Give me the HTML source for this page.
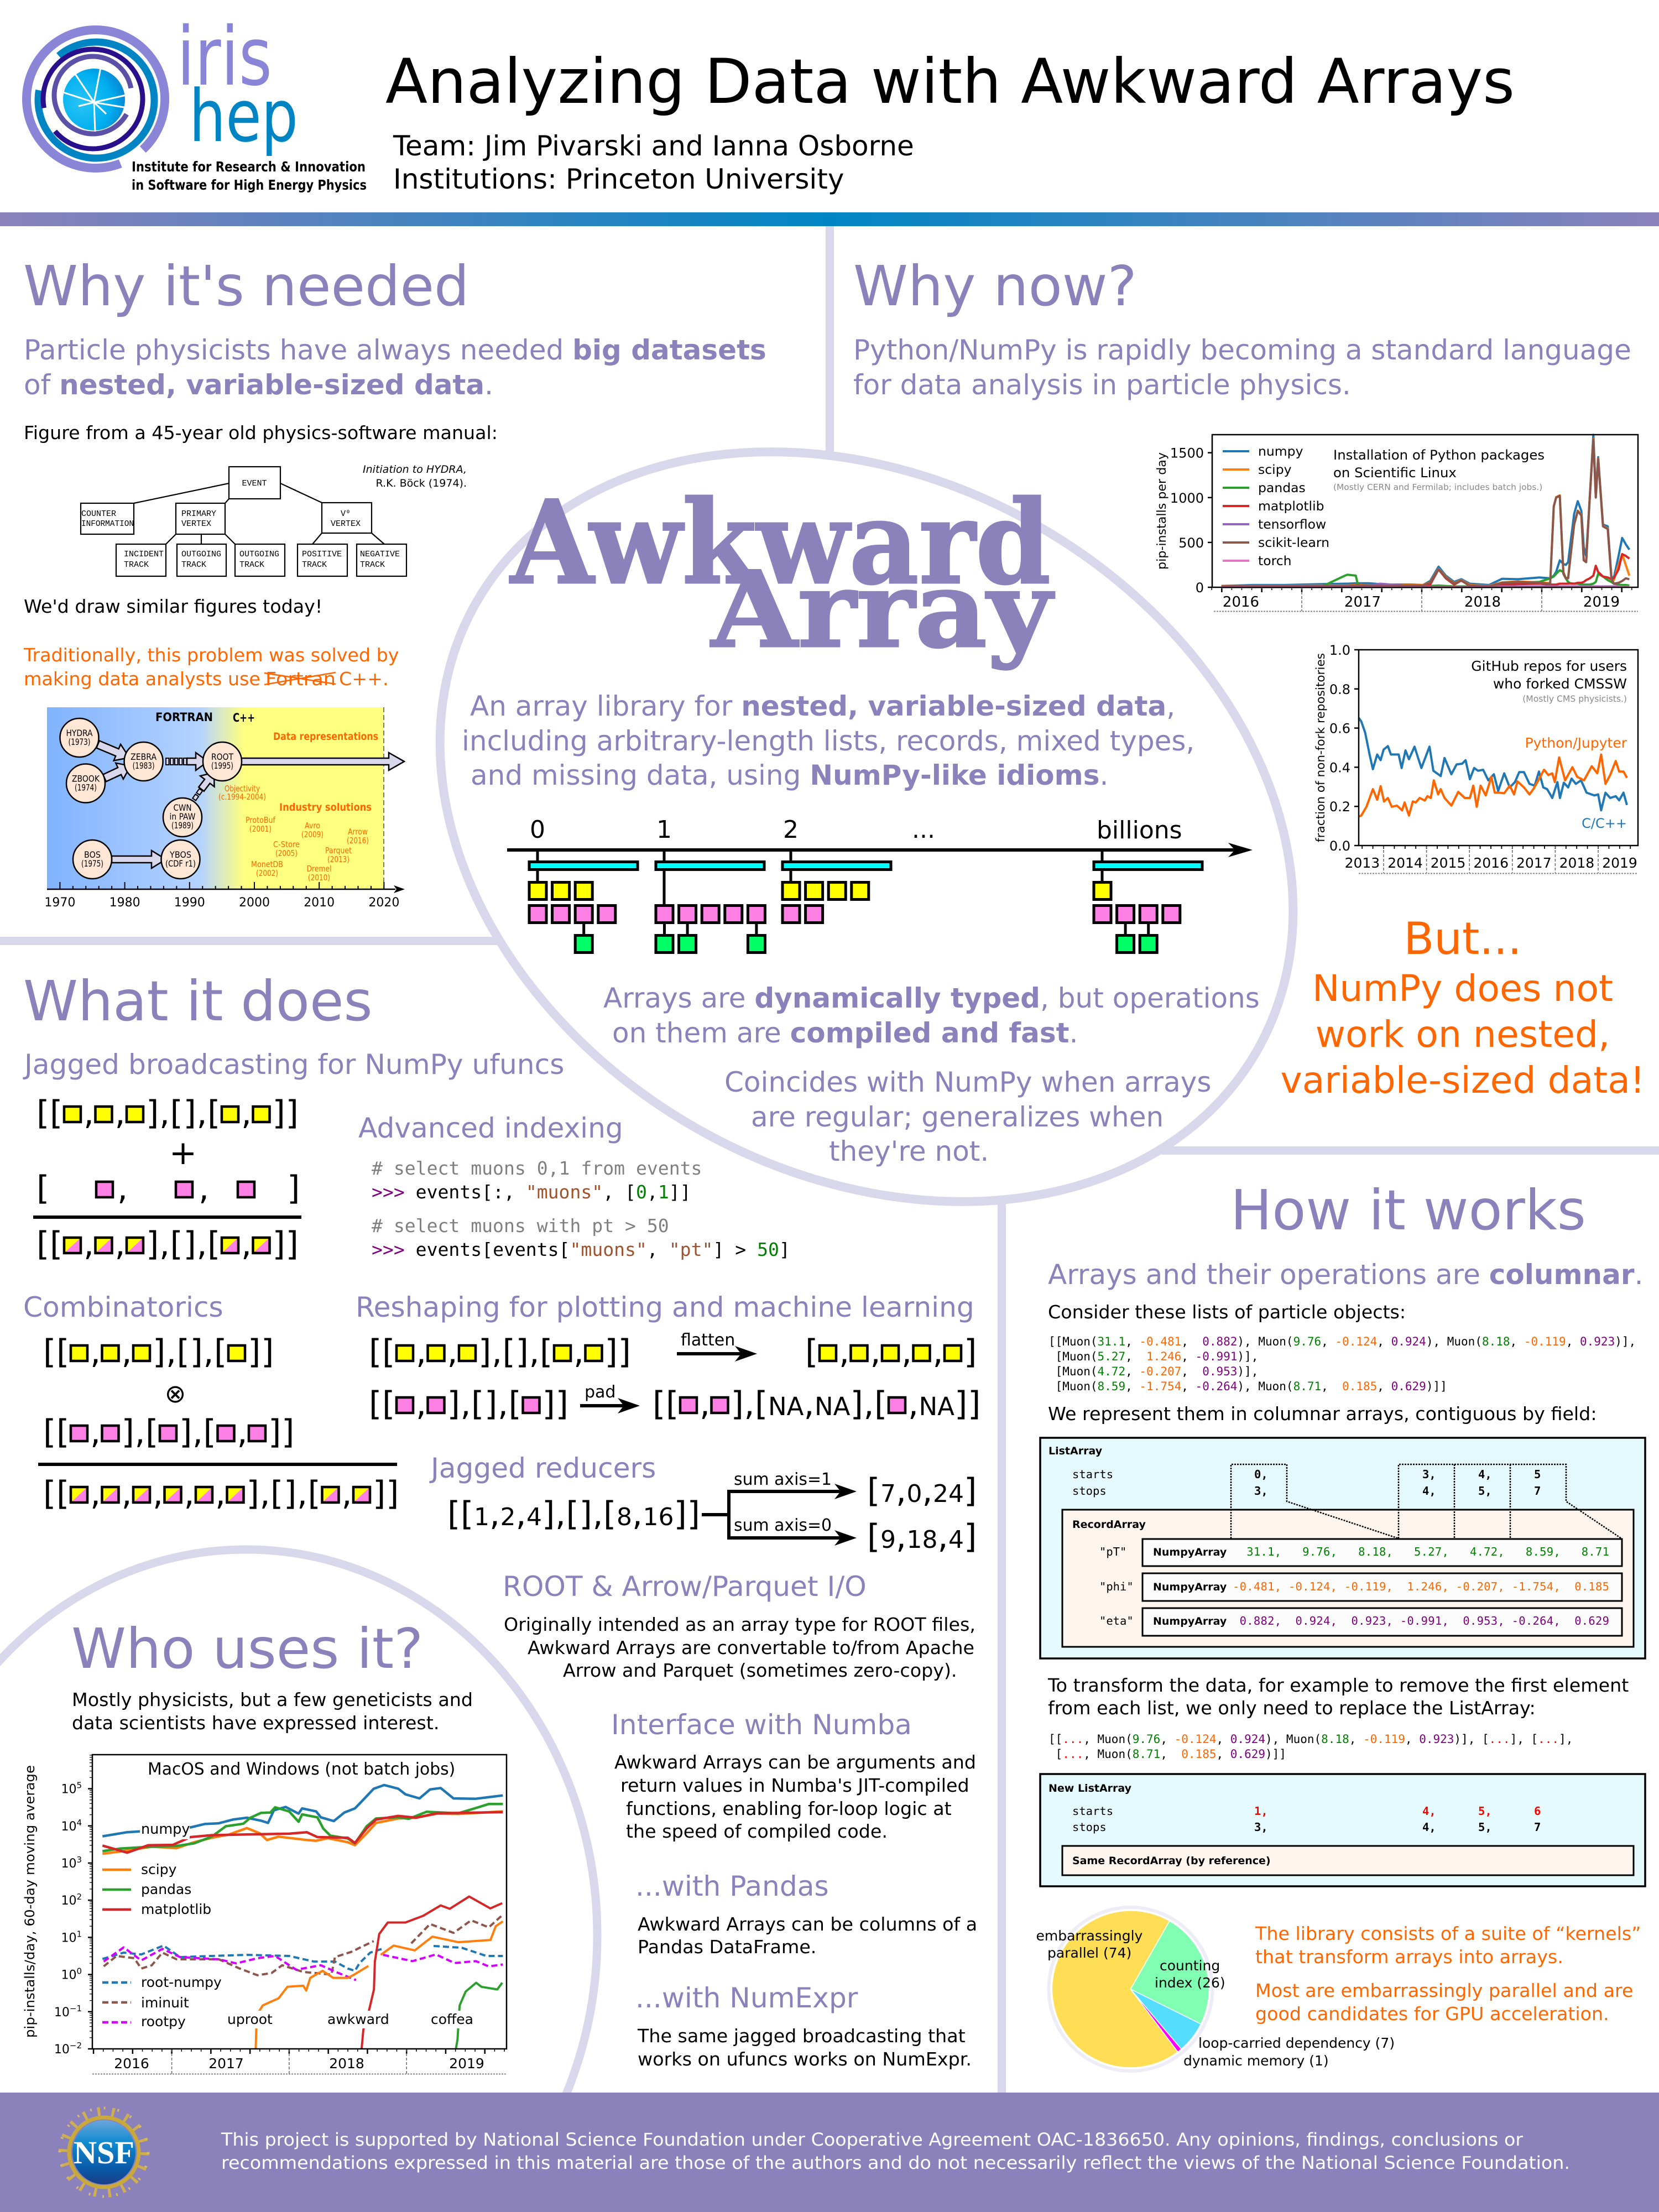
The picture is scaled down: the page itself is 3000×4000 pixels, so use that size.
<!DOCTYPE html>
<html lang="en">
<head>
<meta charset="utf-8">
<title>Analyzing Data with Awkward Arrays</title>
<style>
html,body{margin:0;padding:0;background:#fff;width:3000px;height:4000px;overflow:hidden}
svg{display:block}
text{font-family:"DejaVu Sans","Liberation Sans",sans-serif;white-space:pre}
.h1{font-size:100px;fill:#8b81bb}
.h2{font-size:50.2px;fill:#8b81bb}
.lead{font-size:50px;fill:#8b81bb}
.lead tspan.bd,.bd{font-weight:bold}
.b{font-size:33.3px;fill:#000}
.o{font-size:33.3px;fill:#ff6600}
.big-o{font-size:66.3px;fill:#ff6600}
.m{font-family:"DejaVu Sans Mono","Liberation Mono",monospace}
.code{font-size:33.1px;fill:#000}
.cm{fill:#808080}
.pr{fill:#800080}
.st{fill:#a0522d}
.nu{fill:#008000}
.mu{font-size:21px;fill:#000}
.lab{font-size:19px;font-weight:bold;fill:#000}
.mono20{font-size:20.5px;fill:#000}
.val{font-size:20.5px;font-weight:bold;fill:#000}
.hy{font-family:"Liberation Mono",monospace;font-size:15px;fill:#000}
.tl{font-size:16px;fill:#000;text-anchor:middle}
.tlo{font-size:15px;fill:#ff6600;text-anchor:middle}
.ax{font-size:24px;fill:#000}
.pie{font-size:25px;fill:#000}
.g{fill:#008000}
.or{fill:#ff6600}
.pu{fill:#800080}
.rd{fill:#ff0000}
</style>
</head>
<body>
<svg id="poster" xmlns="http://www.w3.org/2000/svg" width="3000" height="4000" viewBox="0 0 3000 4000">
<defs>
<linearGradient id="barGrad" x1="0" x2="1" y1="0" y2="0"><stop offset="0" stop-color="#8b81bb"/><stop offset="0.5" stop-color="#0085c4"/><stop offset="1" stop-color="#8b81bb"/></linearGradient>
<linearGradient id="tlGrad" x1="0" x2="1" y1="0" y2="0"><stop offset="0" stop-color="#80b3ff"/><stop offset="0.457" stop-color="#b5d3ff"/><stop offset="0.583" stop-color="#ffff80"/><stop offset="1" stop-color="#ffff80"/></linearGradient>
<radialGradient id="logoCore" cx="0.3" cy="0.55" r="0.8"><stop offset="0" stop-color="#29c5f6"/><stop offset="0.6" stop-color="#00aeef"/><stop offset="1" stop-color="#0a78c8"/></radialGradient>
<linearGradient id="globe" x1="0" x2="0" y1="0" y2="1"><stop offset="0" stop-color="#6aa6dc"/><stop offset="0.35" stop-color="#0f8ad0"/><stop offset="0.75" stop-color="#0a5aa8"/><stop offset="1" stop-color="#1a3f88"/></linearGradient>
</defs>

<g>
<rect x="0" y="384" width="3000" height="25" fill="url(#barGrad)"/>
<rect x="1493" y="409" width="15" height="420" fill="#d8d7eb"/>
<rect x="0" y="1694" width="905" height="15" fill="#d8d7eb"/>
<rect x="2100" y="2073" width="900" height="15" fill="#d8d7eb"/>
<rect x="1804" y="2170" width="15" height="1620" fill="#d8d7eb"/>
<ellipse cx="1567" cy="1495" rx="814" ry="626" transform="rotate(30 1567 1495)" fill="#fff" stroke="#d8d7eb" stroke-width="16"/>
<ellipse cx="445" cy="3500" rx="635" ry="698" fill="none" stroke="#d8d7eb" stroke-width="15"/>
</g>

<g>
<circle cx="173" cy="179" r="125" fill="none" stroke="#8a85d6" stroke-width="16" pathLength="360" stroke-dasharray="338 22" transform="rotate(69 173 179)"/>
<circle cx="174" cy="181" r="105" fill="none" stroke="#0085c4" stroke-width="13" pathLength="360" stroke-dasharray="320 40" transform="rotate(230 174 181)"/>
<circle cx="168" cy="179" r="90" fill="none" stroke="#2a0f8c" stroke-width="9" pathLength="360" stroke-dasharray="330 30" transform="rotate(170 168 179)"/>
<circle cx="168" cy="172" r="70" fill="none" stroke="#5b51a6" stroke-width="9" pathLength="360" stroke-dasharray="320 40" transform="rotate(30 168 172)"/>
<circle cx="170" cy="180" r="56" fill="url(#logoCore)"/>
<g stroke="#fff" stroke-width="3">
<line x1="170" y1="185" x2="182" y2="122"/><line x1="170" y1="185" x2="132" y2="128"/><line x1="170" y1="185" x2="108" y2="165"/><line x1="170" y1="185" x2="228" y2="172"/><line x1="170" y1="185" x2="230" y2="195"/><line x1="170" y1="185" x2="172" y2="238"/><line x1="170" y1="185" x2="192" y2="206"/><line x1="170" y1="185" x2="142" y2="192"/>
</g>
<text x="320" y="153" font-size="146" fill="#8a85d6" textLength="172" lengthAdjust="spacingAndGlyphs">iris</text>
<text x="342" y="255" font-size="130" fill="#0085c4" textLength="197" lengthAdjust="spacingAndGlyphs">hep</text>
<text x="238" y="310" font-size="25" font-weight="bold" fill="#000" textLength="423" lengthAdjust="spacingAndGlyphs">Institute for Research &amp; Innovation</text>
<text x="238" y="343" font-size="25" font-weight="bold" fill="#000" textLength="425" lengthAdjust="spacingAndGlyphs">in Software for High Energy Physics</text>
</g>

<text x="697" y="186" font-size="111.2" fill="#000">Analyzing Data with Awkward Arrays</text>
<text x="711" y="281" font-size="50" fill="#000">Team: Jim Pivarski and Ianna Osborne</text>
<text x="711" y="341" font-size="50" fill="#000">Institutions: Princeton University</text>

<!-- Why it's needed -->
<text class="h1" x="42" y="552">Why it's needed</text>
<text class="lead" x="43" y="650">Particle physicists have always needed <tspan class="bd">big datasets</tspan></text>
<text class="lead" x="43" y="713">of <tspan class="bd">nested, variable-sized data</tspan>.</text>
<text class="b" x="43" y="794">Figure from a 45-year old physics-software manual:</text>

<g fill="none" stroke="#000" stroke-width="2.2">
<rect x="414" y="844" width="93" height="58"/>
<rect x="146" y="910" width="96" height="56"/>
<rect x="318" y="910" width="89" height="56"/>
<rect x="582" y="909" width="90" height="55"/>
<rect x="210" y="984" width="90" height="58"/>
<rect x="320" y="984" width="89" height="58"/>
<rect x="425" y="984" width="90" height="58"/>
<rect x="538" y="984" width="90" height="58"/>
<rect x="645" y="984" width="90" height="58"/>
<path d="M414 874L242 910M507 874L582 909M414 902L407 910M318 966L300 984M364 966L364 984M407 966L425 984M582 964L565 984M672 964L695 984"/>
</g>
<g>
<text class="hy" x="460" y="878" text-anchor="middle">EVENT</text>
<text class="hy" x="147" y="933">COUNTER</text>
<text class="hy" x="147" y="951" textLength="95" lengthAdjust="spacingAndGlyphs">INFORMATION</text>
<text class="hy" x="328" y="933">PRIMARY</text>
<text class="hy" x="328" y="951">VERTEX</text>
<text class="hy" x="616" y="933">V⁰</text>
<text class="hy" x="598" y="951">VERTEX</text>
<text class="hy" x="224" y="1006">INCIDENT</text>
<text class="hy" x="224" y="1025">TRACK</text>
<text class="hy" x="328" y="1006">OUTGOING</text>
<text class="hy" x="328" y="1025">TRACK</text>
<text class="hy" x="433" y="1006">OUTGOING</text>
<text class="hy" x="433" y="1025">TRACK</text>
<text class="hy" x="546" y="1006">POSITIVE</text>
<text class="hy" x="546" y="1025">TRACK</text>
<text class="hy" x="651" y="1006">NEGATIVE</text>
<text class="hy" x="651" y="1025">TRACK</text>
<text x="844" y="855" font-size="19" font-style="italic" text-anchor="end">Initiation to HYDRA,</text>
<text x="844" y="880" font-size="19" text-anchor="end">R.K. Böck (1974).</text>
</g>

<text class="b" x="43" y="1108">We'd draw similar figures today!</text>
<text class="o" x="43" y="1196">Traditionally, this problem was solved by</text>
<text class="o" x="43" y="1239">making data analysts use</text>
<text class="o" x="480" y="1239" textLength="127" lengthAdjust="spacingAndGlyphs">Fortran</text>
<path d="M478 1217L607 1237M478 1238L607 1216" stroke="#ff6600" stroke-width="2.5" fill="none"/>
<text class="o" x="613" y="1239">C++.</text>

<g id="timeline">
<rect x="85" y="1279" width="609" height="329" fill="url(#tlGrad)"/>
<line x1="694" y1="1279" x2="694" y2="1608" stroke="#777" stroke-width="2" stroke-dasharray="9 5"/>
<text x="281" y="1304" font-size="21" font-weight="bold" textLength="104" lengthAdjust="spacingAndGlyphs">FORTRAN</text>
<text x="421" y="1305" font-size="21" font-weight="bold" textLength="40" lengthAdjust="spacingAndGlyphs">C++</text>
<text x="684" y="1338" font-size="19" font-weight="bold" fill="#ff6600" text-anchor="end" textLength="190" lengthAdjust="spacingAndGlyphs">Data representations</text>
<text x="672" y="1466" font-size="19" font-weight="bold" fill="#ff6600" text-anchor="end" textLength="167" lengthAdjust="spacingAndGlyphs">Industry solutions</text>
</g>
<g>
<text class="tlo" x="438" y="1431" textLength="64" lengthAdjust="spacingAndGlyphs">Objectivity</text><text class="tlo" x="438" y="1446" textLength="86" lengthAdjust="spacingAndGlyphs">(c.1994-2004)</text>
<text class="tlo" x="471" y="1488" textLength="54" lengthAdjust="spacingAndGlyphs">ProtoBuf</text><text class="tlo" x="471" y="1504" textLength="40" lengthAdjust="spacingAndGlyphs">(2001)</text>
<text class="tlo" x="565" y="1498" textLength="28" lengthAdjust="spacingAndGlyphs">Avro</text><text class="tlo" x="565" y="1514" textLength="40" lengthAdjust="spacingAndGlyphs">(2009)</text>
<text class="tlo" x="647" y="1509" textLength="36" lengthAdjust="spacingAndGlyphs">Arrow</text><text class="tlo" x="647" y="1525" textLength="40" lengthAdjust="spacingAndGlyphs">(2016)</text>
<text class="tlo" x="518" y="1532" textLength="48" lengthAdjust="spacingAndGlyphs">C-Store</text><text class="tlo" x="518" y="1548" textLength="40" lengthAdjust="spacingAndGlyphs">(2005)</text>
<text class="tlo" x="612" y="1543" textLength="48" lengthAdjust="spacingAndGlyphs">Parquet</text><text class="tlo" x="612" y="1559" textLength="40" lengthAdjust="spacingAndGlyphs">(2013)</text>
<text class="tlo" x="483" y="1568" textLength="58" lengthAdjust="spacingAndGlyphs">MonetDB</text><text class="tlo" x="483" y="1584" textLength="40" lengthAdjust="spacingAndGlyphs">(2002)</text>
<text class="tlo" x="577" y="1576" textLength="45" lengthAdjust="spacingAndGlyphs">Dremel</text><text class="tlo" x="577" y="1592" textLength="40" lengthAdjust="spacingAndGlyphs">(2010)</text>
</g>

<!-- Why now -->
<text class="h1" x="1543" y="552">Why now?</text>
<text class="lead" x="1543" y="650">Python/NumPy is rapidly becoming a standard language</text>
<text class="lead" x="1543" y="713">for data analysis in particle physics.</text>

<!-- Central -->
<text x="923" y="1054" font-size="208" font-weight="bold" fill="#8b81bb" stroke="#8b81bb" stroke-width="3" style="font-family:'DejaVu Serif','Liberation Serif',serif" textLength="977" lengthAdjust="spacingAndGlyphs">Awkward</text>
<text x="1286" y="1169" font-size="190" font-weight="bold" fill="#8b81bb" stroke="#8b81bb" stroke-width="3" style="font-family:'DejaVu Serif','Liberation Serif',serif" textLength="616" lengthAdjust="spacingAndGlyphs">Array</text>
<text class="lead" x="850" y="1294">An array library for <tspan class="bd">nested, variable-sized data</tspan>,</text>
<text class="lead" x="835" y="1357">including arbitrary-length lists, records, mixed types,</text>
<text class="lead" x="851" y="1419">and missing data, using <tspan class="bd">NumPy-like idioms</tspan>.</text>

<g id="events">
<text x="972" y="1515" font-size="44" text-anchor="middle">0</text>
<text x="1201" y="1515" font-size="44" text-anchor="middle">1</text>
<text x="1430" y="1515" font-size="44" text-anchor="middle">2</text>
<text x="1670" y="1515" font-size="44" text-anchor="middle">...</text>
<text x="1983" y="1516" font-size="44">billions</text>
<line x1="917" y1="1537" x2="2240" y2="1537" stroke="#000" stroke-width="6"/>
<polygon points="2265,1537 2221,1524 2233,1537 2221,1550" fill="#000"/>
</g>

<text class="lead" x="1091" y="1822">Arrays are <tspan class="bd">dynamically typed</tspan>, but operations</text>
<text class="lead" x="1107" y="1885">on them are <tspan class="bd">compiled and fast</tspan>.</text>
<text class="lead" x="1310" y="1974">Coincides with NumPy when arrays</text>
<text class="lead" x="1358" y="2037">are regular; generalizes when</text>
<text class="lead" x="1499" y="2099">they're not.</text>

<!-- But -->
<text x="2645" y="1725" font-size="80" fill="#ff6600" text-anchor="middle">But...</text>
<text class="big-o" x="2645" y="1810" text-anchor="middle">NumPy does not</text>
<text class="big-o" x="2645" y="1893" text-anchor="middle">work on nested,</text>
<text class="big-o" x="2645" y="1976" text-anchor="middle">variable-sized data!</text>

<!-- What it does -->
<text class="h1" x="42" y="1845">What it does</text>
<text class="h2" x="44" y="1942">Jagged broadcasting for NumPy ufuncs</text>
<text class="h2" x="648" y="2057">Advanced indexing</text>
<text class="m code cm" x="672" y="2124"># select muons 0,1 from events</text>
<text class="m code" x="672" y="2167"><tspan class="pr">&gt;&gt;&gt;</tspan> events[:, <tspan class="st">"muons"</tspan>, [<tspan class="nu">0</tspan>,<tspan class="nu">1</tspan>]]</text>
<text class="m code cm" x="672" y="2228"># select muons with pt &gt; 50</text>
<text class="m code" x="672" y="2271"><tspan class="pr">&gt;&gt;&gt;</tspan> events[events[<tspan class="st">"muons"</tspan>, <tspan class="st">"pt"</tspan>] &gt; <tspan class="nu">50</tspan>]</text>
<text x="331" y="2105" font-size="60" text-anchor="middle">+</text>
<rect x="60" y="2198" width="485" height="6" fill="#000"/>
<text class="h2" x="42" y="2381">Combinatorics</text>
<text class="h2" x="643" y="2381">Reshaping for plotting and machine learning</text>
<text x="317" y="2536" font-size="46" text-anchor="middle">⊗</text>
<rect x="69" y="2645" width="649" height="6" fill="#000"/>
<text x="1231" y="2433" font-size="30">flatten</text>
<text x="1057" y="2527" font-size="30">pad</text>
<text class="h2" x="779" y="2672">Jagged reducers</text>
<g stroke="#000" stroke-width="6" fill="none">
<path d="M1269 2739H1318M1318 2697V2781M1315 2697H1525M1315 2781H1525"/>
<path d="M1224 2448H1345"/>
<path d="M1049 2542H1135"/>
</g>
<g fill="#000">
<polygon points="1369,2448 1329,2434 1340,2448 1329,2462"/>
<polygon points="1157,2542 1117,2528 1128,2542 1117,2556"/>
<polygon points="1549,2697 1509,2683 1520,2697 1509,2711"/>
<polygon points="1549,2781 1509,2767 1520,2781 1509,2795"/>
</g>
<text x="1327" y="2685" font-size="30" textLength="177" lengthAdjust="spacingAndGlyphs">sum axis=1</text>
<text x="1327" y="2768" font-size="30" textLength="177" lengthAdjust="spacingAndGlyphs">sum axis=0</text>

<!-- Who uses it -->
<text class="h1" x="129" y="3016">Who uses it?</text>
<text class="b" x="130" y="3085">Mostly physicists, but a few geneticists and</text>
<text class="b" x="130" y="3127">data scientists have expressed interest.</text>

<!-- ROOT etc -->
<text class="h2" x="909" y="2886">ROOT &amp; Arrow/Parquet I/O</text>
<text class="b" x="911" y="2949">Originally intended as an array type for ROOT files,</text>
<text class="b" x="954" y="2991">Awkward Arrays are convertable to/from Apache</text>
<text class="b" x="1018" y="3032">Arrow and Parquet (sometimes zero-copy).</text>
<text class="h2" x="1105" y="3136">Interface with Numba</text>
<text class="b" x="1111" y="3198">Awkward Arrays can be arguments and</text>
<text class="b" x="1122" y="3240">return values in Numba's JIT-compiled</text>
<text class="b" x="1132" y="3282">functions, enabling for-loop logic at</text>
<text class="b" x="1132" y="3323">the speed of compiled code.</text>
<text class="h2" x="1149" y="3428">...with Pandas</text>
<text class="b" x="1153" y="3491">Awkward Arrays can be columns of a</text>
<text class="b" x="1153" y="3532">Pandas DataFrame.</text>
<text class="h2" x="1149" y="3630">...with NumExpr</text>
<text class="b" x="1153" y="3693">The same jagged broadcasting that</text>
<text class="b" x="1153" y="3735">works on ufuncs works on NumExpr.</text>

<!-- How it works -->
<text class="h1" x="2225" y="2223">How it works</text>
<text class="lead" x="1895" y="2322">Arrays and their operations are <tspan class="bd">columnar</tspan>.</text>
<text class="b" x="1895" y="2384">Consider these lists of particle objects:</text>
<text class="m mu" x="1896" y="2433">[[Muon(<tspan class="g">31.1</tspan>, <tspan class="or">-0.481</tspan>,  <tspan class="pu">0.882</tspan>), Muon(<tspan class="g">9.76</tspan>, <tspan class="or">-0.124</tspan>, <tspan class="pu">0.924</tspan>), Muon(<tspan class="g">8.18</tspan>, <tspan class="or">-0.119</tspan>, <tspan class="pu">0.923</tspan>)],</text>
<text class="m mu" x="1896" y="2460"> [Muon(<tspan class="g">5.27</tspan>,  <tspan class="or">1.246</tspan>, <tspan class="pu">-0.991</tspan>)],</text>
<text class="m mu" x="1896" y="2487"> [Muon(<tspan class="g">4.72</tspan>, <tspan class="or">-0.207</tspan>,  <tspan class="pu">0.953</tspan>)],</text>
<text class="m mu" x="1896" y="2514"> [Muon(<tspan class="g">8.59</tspan>, <tspan class="or">-1.754</tspan>, <tspan class="pu">-0.264</tspan>), Muon(<tspan class="g">8.71</tspan>,  <tspan class="or">0.185</tspan>, <tspan class="pu">0.629</tspan>)]]</text>
<text class="b" x="1895" y="2568">We represent them in columnar arrays, contiguous by field:</text>

<g>
<rect x="1881" y="2600" width="1094" height="399" fill="#e5fafd" stroke="#000" stroke-width="3.5"/>
<text class="lab" x="1896" y="2630">ListArray</text>
<text class="m mono20" x="1939" y="2673">starts</text>
<text class="m mono20" x="1939" y="2703">stops</text>
<text class="m val" x="2268" y="2673">0,</text><text class="m val" x="2268" y="2703">3,</text>
<text class="m val" x="2572" y="2673">3,</text><text class="m val" x="2572" y="2703">4,</text>
<text class="m val" x="2673" y="2673">4,</text><text class="m val" x="2673" y="2703">5,</text>
<text class="m val" x="2774" y="2673">5</text><text class="m val" x="2774" y="2703">7</text>
<rect x="1921" y="2730" width="1033" height="248" fill="#fff5ef" stroke="#000" stroke-width="3"/>
<text class="lab" x="1939" y="2763">RecordArray</text>
<rect x="2066" y="2783" width="867" height="49" fill="#fcfcfc" stroke="#000" stroke-width="3"/>
<rect x="2066" y="2845" width="867" height="50" fill="#fcfcfc" stroke="#000" stroke-width="3"/>
<rect x="2066" y="2908" width="867" height="50" fill="#fcfcfc" stroke="#000" stroke-width="3"/>
<path d="M2226 2782V2648H2327V2715L2529 2782M2529 2782V2648H2832V2715L2932 2782M2630 2648V2782M2731 2648V2782" fill="none" stroke="#000" stroke-width="2.5" stroke-dasharray="3 2"/>
<text class="m mono20" x="1988" y="2813">"pT"</text>
<text class="m mono20" x="1988" y="2876">"phi"</text>
<text class="m mono20" x="1988" y="2938">"eta"</text>
<text class="lab" x="2085" y="2813">NumpyArray</text>
<text class="lab" x="2085" y="2876">NumpyArray</text>
<text class="lab" x="2085" y="2938">NumpyArray</text>
<text class="m mono20 g" x="2229" y="2813" textLength="681" lengthAdjust="spacing">  31.1,   9.76,   8.18,   5.27,   4.72,   8.59,   8.71</text>
<text class="m mono20 or" x="2229" y="2876" textLength="681" lengthAdjust="spacing">-0.481, -0.124, -0.119,  1.246, -0.207, -1.754,  0.185</text>
<text class="m mono20 pu" x="2229" y="2938" textLength="681" lengthAdjust="spacing"> 0.882,  0.924,  0.923, -0.991,  0.953, -0.264,  0.629</text>
</g>

<text class="b" x="1895" y="3059">To transform the data, for example to remove the first element</text>
<text class="b" x="1895" y="3100">from each list, we only need to replace the ListArray:</text>
<text class="m mu" x="1896" y="3152">[[<tspan class="rd">...</tspan>, Muon(<tspan class="g">9.76</tspan>, <tspan class="or">-0.124</tspan>, <tspan class="pu">0.924</tspan>), Muon(<tspan class="g">8.18</tspan>, <tspan class="or">-0.119</tspan>, <tspan class="pu">0.923</tspan>)], [<tspan class="rd">...</tspan>], [<tspan class="rd">...</tspan>],</text>
<text class="m mu" x="1896" y="3179"> [<tspan class="rd">...</tspan>, Muon(<tspan class="g">8.71</tspan>,  <tspan class="or">0.185</tspan>, <tspan class="pu">0.629</tspan>)]]</text>

<g>
<rect x="1881" y="3208" width="1094" height="203" fill="#e5fafd" stroke="#000" stroke-width="3.5"/>
<text class="lab" x="1896" y="3240">New ListArray</text>
<text class="m mono20" x="1939" y="3282">starts</text>
<text class="m mono20" x="1939" y="3311">stops</text>
<text class="m val" x="2268" y="3282" style="fill:#f00">1,</text><text class="m val" x="2268" y="3311">3,</text>
<text class="m val" x="2572" y="3282" style="fill:#f00">4,</text><text class="m val" x="2572" y="3311">4,</text>
<text class="m val" x="2673" y="3282" style="fill:#f00">5,</text><text class="m val" x="2673" y="3311">5,</text>
<text class="m val" x="2774" y="3282" style="fill:#f00">6</text><text class="m val" x="2774" y="3311">7</text>
<rect x="1921" y="3338" width="1033" height="53" fill="#fff5ef" stroke="#000" stroke-width="3"/>
<text class="lab" x="1939" y="3371">Same RecordArray (by reference)</text>
</g>

<g id="pieChart">
<circle cx="2044.4" cy="3597" r="148" fill="#fff" stroke="#eeedf7" stroke-width="6"/>
</g>
<text class="o" x="2270" y="3508">The library consists of a suite of “kernels”</text>
<text class="o" x="2270" y="3550">that transform arrays into arrays.</text>
<text class="o" x="2270" y="3611">Most are embarrassingly parallel and are</text>
<text class="o" x="2270" y="3653">good candidates for GPU acceleration.</text>

<!-- Footer -->
<g>
<rect x="0" y="3784" width="3000" height="216" fill="#8b81bb"/>
<circle cx="188" cy="3892" r="72" fill="none" stroke="#cfae52" stroke-width="20" stroke-dasharray="5 20.2"/>
<circle cx="188" cy="3892" r="63" fill="none" stroke="#c9a83c" stroke-width="7"/>
<circle cx="188" cy="3892" r="80" fill="none" stroke="#d8b966" stroke-width="5" stroke-dasharray="3 22.1"/>
<ellipse cx="188" cy="3892" rx="57" ry="58" fill="url(#globe)"/>
<text x="188" y="3912" font-size="58" fill="#fff" text-anchor="middle" style="font-family:'Liberation Serif','DejaVu Serif',serif" font-weight="bold" textLength="110" lengthAdjust="spacingAndGlyphs">NSF</text>
<text x="400" y="3880" font-size="32" fill="#fff" textLength="2354" lengthAdjust="spacingAndGlyphs">This project is supported by National Science Foundation under Cooperative Agreement OAC-1836650. Any opinions, findings, conclusions or</text>
<text x="400" y="3922" font-size="32" fill="#fff" textLength="2439" lengthAdjust="spacingAndGlyphs">recommendations expressed in this material are those of the authors and do not necessarily reflect the views of the National Science Foundation.</text>
</g>

<g id="charts"></g>
</svg>

<script>
/* ---------- chart 1: Scientific Linux installs ---------- */
const slDates=[2016.33,2016.59,2016.86,2017.17,2017.36,2017.38,2017.45,2017.47,2017.56,2017.65,2017.70,2017.92,2018.01,2018.07,2018.14,2018.20,2018.27,2018.33,2018.40,2018.56,2018.67,2018.80,2018.98,2019.07,2019.10,2019.12,2019.15,2019.18,2019.20,2019.22,2019.24,2019.27,2019.30,2019.33,2019.35,2019.37,2019.40,2019.43,2019.45,2019.47,2019.51,2019.55,2019.58,2019.60,2019.64,2019.67,2019.70,2019.73];
const slNumpy=[15,25,25,35,40,40,45,45,45,35,30,30,25,70,230,130,60,90,40,25,95,90,110,100,130,170,300,260,250,280,500,820,960,850,450,350,1000,1700,1050,1450,700,680,120,100,350,550,480,420];
const slScipy=[12,18,18,20,20,20,25,25,20,25,20,25,25,55,205,115,45,80,25,15,55,65,55,45,905,1005,1025,155,105,105,355,705,855,805,305,285,1005,1655,1005,1435,685,655,105,80,250,370,250,130];
const slPandas=[5,8,8,10,130,140,130,15,12,12,10,10,10,15,20,15,10,10,10,10,40,50,60,100,120,150,190,170,100,60,40,40,40,30,30,30,30,40,60,150,120,80,60,40,30,25,25,20];
const slMatplotlib=[8,10,10,12,15,15,20,20,18,18,15,15,15,30,200,100,30,75,15,10,25,35,40,30,30,30,40,40,40,40,45,40,50,50,60,80,100,130,240,170,120,110,90,100,200,370,350,320];
const slTensorflow=[0,0,1,2,5,5,5,5,15,40,35,10,5,5,5,5,5,5,5,5,10,10,10,10,10,10,10,10,10,10,10,10,10,10,10,10,10,10,10,10,10,10,10,10,10,5,5,5];
const slScikit=[10,15,15,15,15,15,20,20,15,20,15,20,20,50,200,110,40,75,20,10,50,60,50,40,900,1000,1020,150,100,100,350,700,850,800,300,280,1000,1650,1000,1430,680,650,100,40,50,70,100,90];
const slTorch=[0,0,0,0,0,0,0,0,0,0,0,0,0,0,0,0,0,0,0,0,1,1,1,2,2,2,3,3,3,3,4,4,4,4,4,4,4,4,4,4,4,4,4,5,5,5,5,5];
const slYTicks=[0,500,1000,1500];
const slYears=[2016,2017,2018,2019];
const slNames=['numpy','scipy','pandas','matplotlib','tensorflow','scikit-learn','torch'];

/* ---------- chart 2: GitHub repos ---------- */
const cppDates=[2013.42,2013.48,2013.57,2013.67,2013.75,2013.85,2013.93,2014.00,2014.10,2014.17,2014.35,2014.42,2014.51,2014.59,2014.72,2014.80,2014.88,2015.07,2015.16,2015.33,2015.42,2015.58,2015.70,2015.83,2015.91,2016.01,2016.11,2016.20,2016.32,2016.44,2016.57,2016.67,2016.81,2016.94,2017.06,2017.16,2017.27,2017.40,2017.52,2017.62,2017.72,2017.81,2017.93,2018.05,2018.11,2018.20,2018.30,2018.38,2018.48,2018.60,2018.73,2018.91,2019.00,2019.07,2019.17,2019.28,2019.41,2019.49,2019.59,2019.67];
const cppShare=[0.652,0.634,0.577,0.468,0.39,0.465,0.436,0.49,0.508,0.465,0.465,0.396,0.486,0.441,0.505,0.45,0.396,0.505,0.382,0.355,0.447,0.364,0.414,0.418,0.436,0.339,0.396,0.382,0.387,0.333,0.364,0.279,0.369,0.297,0.324,0.375,0.375,0.315,0.306,0.378,0.297,0.288,0.243,0.324,0.243,0.321,0.297,0.342,0.315,0.333,0.27,0.256,0.261,0.18,0.27,0.243,0.252,0.231,0.27,0.207];
const pyDates=[2013.42,2013.48,2013.60,2013.75,2013.85,2013.93,2014.01,2014.10,2014.19,2014.31,2014.43,2014.49,2014.59,2014.68,2014.75,2014.84,2014.96,2015.02,2015.10,2015.17,2015.27,2015.33,2015.42,2015.58,2015.74,2015.89,2016.01,2016.09,2016.17,2016.26,2016.38,2016.51,2016.59,2016.69,2016.81,2016.94,2017.04,2017.12,2017.27,2017.40,2017.49,2017.62,2017.74,2017.84,2017.93,2017.99,2018.09,2018.23,2018.40,2018.51,2018.67,2018.85,2018.98,2019.07,2019.17,2019.28,2019.41,2019.49,2019.59,2019.67];
const pyShare=[0.148,0.153,0.198,0.288,0.234,0.303,0.225,0.243,0.198,0.204,0.18,0.22,0.153,0.225,0.22,0.243,0.23,0.252,0.243,0.333,0.261,0.288,0.243,0.204,0.274,0.243,0.243,0.306,0.198,0.306,0.256,0.351,0.27,0.27,0.267,0.306,0.261,0.328,0.297,0.261,0.288,0.339,0.387,0.36,0.369,0.324,0.45,0.333,0.4,0.351,0.333,0.405,0.369,0.465,0.315,0.36,0.432,0.378,0.378,0.346];
const ghYTicks=[0,0.2,0.4,0.6,0.8,1.0];
const ghYears=[2013,2014,2015,2016,2017,2018,2019];

/* ---------- chart 3: MacOS and Windows (log10 of installs/day) ---------- */
const numpyD=[2016.41,2016.62,2016.72,2017.16,2017.28,2017.40,2017.52,2017.64,2017.76,2017.82,2017.87,2017.97,2018.08,2018.11,2018.23,2018.27,2018.38,2018.47,2018.56,2018.60,2018.72,2018.81,2018.93,2018.99,2019.11,2019.20,2019.29,2019.40,2019.59,2019.82];
const numpyLog=[3.72,3.83,3.85,3.96,4.05,4.07,4.17,4.22,4.14,4.08,4.42,4.51,4.33,4.47,4.39,4.23,4.13,4.36,4.47,4.6,5.0,5.1,5.0,4.85,4.74,4.98,5.02,4.74,4.73,4.82];
const scipyD=[2016.41,2016.56,2016.83,2017.04,2017.19,2017.34,2017.49,2017.64,2017.75,2017.81,2017.91,2018.15,2018.23,2018.33,2018.50,2018.56,2018.66,2018.74,2018.93,2019.08,2019.26,2019.44,2019.82];
const scipyLog=[3.25,3.31,3.44,3.4,3.56,3.68,3.77,3.94,3.8,3.62,3.71,3.62,3.6,3.67,3.56,3.48,3.8,4.08,4.2,4.22,4.33,4.32,4.39];
const pandasD=[2016.41,2016.56,2016.83,2017.04,2017.19,2017.34,2017.46,2017.61,2017.67,2017.76,2017.84,2017.88,2018.00,2018.08,2018.11,2018.24,2018.29,2018.35,2018.50,2018.56,2018.66,2018.74,2018.93,2019.02,2019.17,2019.44,2019.59,2019.70,2019.82];
const pandasLog=[3.32,3.39,3.44,3.46,3.53,3.71,3.99,4.06,4.22,4.35,4.36,4.5,4.39,4.11,4.31,4.23,3.93,3.74,3.66,3.53,3.99,4.2,4.23,4.19,4.38,4.34,4.48,4.59,4.59];
const mplD=[2016.41,2016.62,2016.80,2017.01,2017.16,2017.34,2017.64,2018.00,2018.15,2018.24,2018.50,2018.56,2018.66,2018.74,2018.93,2019.08,2019.26,2019.82];
const mplLog=[3.47,3.28,3.48,3.49,3.7,3.75,3.77,3.79,3.83,3.7,3.68,3.54,3.93,4.17,4.27,4.22,4.34,4.37];
const rootNumpyD=[2016.41,2016.59,2016.74,2016.93,2017.07,2017.34,2017.64,2018.00,2018.21,2018.39,2018.50,2018.56,2018.60,2018.69,2018.80,2018.90,2019.23,2019.47,2019.68,2019.82];
const rootNumpyLog=[0.42,0.59,0.54,0.78,0.47,0.5,0.53,0.5,0.35,0.35,0.16,0.1,0.31,0.59,0.7,null,0.77,0.72,0.5,0.5];
const iminuitD=[2016.42,2016.53,2016.68,2016.74,2016.83,2016.92,2017.04,2017.40,2017.58,2017.73,2017.85,2017.94,2018.12,2018.36,2018.39,2018.54,2018.60,2018.72,2018.85,2019.04,2019.20,2019.40,2019.55,2019.70,2019.82];
const iminuitLog=[0.22,0.5,0.44,0.16,0.25,0.59,0.41,0.41,0.16,-0.02,0.04,0.25,0.07,0.0,0.47,0.62,0.72,0.9,null,0.84,1.36,1.12,1.46,1.27,1.61];
const rootpyD=[2016.42,2016.59,2016.74,2016.92,2017.07,2017.40,2017.55,2017.73,2017.88,2018.06,2018.27,2018.42,2018.57,2018.65,2018.80,2019.05,2019.25,2019.41,2019.59,2019.70,2019.82];
const rootpyLog=[0.35,0.73,0.38,0.69,0.47,0.41,0.3,0.44,0.5,0.13,0.25,0.04,-0.15,null,0.53,0.36,0.54,0.31,0.36,0.22,0.27];
const uprootD=[2017.715,2017.72,2017.74,2017.775,2017.91,2017.985,2018.12,2018.145,2018.18,2018.285,2018.375,2018.50,2018.555,2018.675,2018.72,2018.78,2018.89,2019.07,2019.22,2019.44,2019.715,2019.76,2019.82];
const uprootLog=[-2,-1.44,-1.01,-0.83,-0.64,-0.33,-0.3,-0.43,-0.09,0.1,-0.09,-0.09,0.0,0.23,null,0.53,0.78,0.65,1.02,0.87,0.93,1.3,1.43];
const awkwardD=[2018.617,2018.632,2018.677,2018.722,2018.73,2018.767,2018.84,2018.99,2019.142,2019.29,2019.368,2019.533,2019.713,2019.815];
const awkwardLog=[-2,-1.48,-1.01,-0.4,0.35,1.09,1.4,1.4,1.58,1.86,1.77,2.1,1.78,1.92];
const coffeaD=[2019.42,2019.434,2019.452,2019.503,2019.593,2019.638,2019.773,2019.815];
const coffeaLog=[-2,-1.75,-0.83,-0.46,-0.22,-0.33,-0.4,-0.22];
const macYExponents=[-2,-1,0,1,2,3,4,5];
const macYears=[2016,2017,2018,2019];

/* ---------- pie chart ---------- */
const pieCategories=['counting index','loop-carried dependency','dynamic memory','embarrassingly parallel'];
const pieCounts=[26,7,1,74];

/* ---------- helpers ---------- */
const NS='http://www.w3.org/2000/svg';
const svg=document.getElementById('poster');
const charts=document.getElementById('charts');
const BLUE='#1f77b4',ORANGE='#ff7f0e',GREEN='#2ca02c',RED='#d62728',PURPLE='#9467bd',BROWN='#8c564b',PINK='#e377c2';
function mk(tag,attrs,parent,text){
  const e=document.createElementNS(NS,tag);
  for(const k in attrs)e.setAttribute(k,attrs[k]);
  if(text!==undefined)e.textContent=text;
  (parent||svg).appendChild(e);
  return e;
}
function plot(parent,xs,ys,xf,yf,color,width,name,dash){
  let seg=[];
  const flush=()=>{
    if(seg.length>1){
      const el=mk('polyline',{points:seg.join(' '),fill:'none',stroke:color,'stroke-width':width,'stroke-linejoin':'round','stroke-dasharray':dash||'none'},parent);
      
      
    }
    seg=[];
  };
  xs.forEach((d,i)=>{
    if(ys[i]===null){flush();}
    else seg.push(xf(d).toFixed(1)+','+yf(ys[i]).toFixed(1));
  });
  flush();
}
function label(parent,x,y,str,size,name,extra){
  const el=mk('text',Object.assign({x:x,y:y,'font-size':size},extra||{}),parent,str);
  
  
  return el;
}
function seg(parent,a,b,c,d,w,color,name,dash){
  const el=mk('line',{x1:a,y1:b,x2:c,y2:d,stroke:color||'#000','stroke-width':w,'stroke-dasharray':dash||'none'},parent);
  
  
  return el;
}
function frame(parent,l,t,r,b,name){
  const el=mk('rect',{x:l,y:t,width:r-l,height:b-t,fill:'none',stroke:'#000','stroke-width':2.5},parent);
  
  
}

/* ---------- draw chart 1 ---------- */
(function(){
  const x=d=>2354+(d-2017)*217, y=v=>1062-v*81.1/500;
  const g=mk('g',{},charts);
  
  
  slYTicks.forEach(v=>{
    seg(g,2184,y(v),2192,y(v),2.5,'#000','y-tick');
    label(g,2177,y(v)+9,String(v),24,'y-tick-label',{'text-anchor':'end'});
  });
  for(let m=0;m<44;m++){
    const d=2016.25+m/12+0.0;
    if(x(d)>2962)break;
    const major=(m+3)%4===0 ;
    seg(g,x(d),1062,x(d),1062+(major?9:5),major?2.5:1.5,'#000','x-tick');
  }
  [2017,2018,2019].forEach(d=>seg(g,x(d),1062,x(d),1105,1.5,'#666','year-separator','5 3'));
  seg(g,2195,1105.5,2962,1105.5,2,'#888','year-baseline','3 2');
  slYears.forEach((yr,i)=>{
    const c=[2244,2464,2681,2896][i];
    label(g,c,1097,String(yr),26,'x-year-label',{'text-anchor':'middle'});
  });
  label(g,2108,1030,'pip-installs per day',22,'y-axis-title',{transform:'rotate(-90 2108 1030)',textLength:212,lengthAdjust:'spacingAndGlyphs'});
  plot(g,slDates,slNumpy,x,y,BLUE,4,'line-numpy');
  plot(g,slDates,slScipy,x,y,ORANGE,4,'line-scipy');
  plot(g,slDates,slPandas,x,y,GREEN,4,'line-pandas');
  plot(g,slDates,slMatplotlib,x,y,RED,4,'line-matplotlib');
  plot(g,slDates,slTensorflow,x,y,PURPLE,4,'line-tensorflow');
  plot(g,slDates,slScikit,x,y,BROWN,4,'line-scikit-learn');
  plot(g,slDates,slTorch,x,y,PINK,4,'line-torch');
  frame(g,2192,786,2962,1062,'chart-frame');
  const cols=[BLUE,ORANGE,GREEN,RED,PURPLE,BROWN,PINK];
  slNames.forEach((n,i)=>{
    const ly=816+i*33;
    seg(g,2211,ly,2259,ly,4,cols[i],'legend-line-'+n);
    label(g,2275,ly+8,n,23.5,'legend-label-'+n);
  });
  label(g,2411,831,'Installation of Python packages',24.4,'chart-title-line-1');
  label(g,2411,863,'on Scientific Linux',24.4,'chart-title-line-2');
  label(g,2411,886,'(Mostly CERN and Fermilab; includes batch jobs.)',15.4,'chart-subtitle',{fill:'#888'});
})();

/* ---------- draw chart 2 ---------- */
(function(){
  const x=d=>2502+(d-2014)*77.6, y=v=>1529-v*354;
  const g=mk('g',{},charts);
  
  
  ghYTicks.forEach(v=>{
    seg(g,2449,y(v),2457,y(v),2.5,'#000','y-tick');
    label(g,2442,y(v)+9,v.toFixed(1),24,'y-tick-label',{'text-anchor':'end'});
  });
  for(let q=0;q<27;q++){
    const d=2013.5+q/4;
    if(x(d)>2962)break;
    seg(g,x(d),1529,x(d),1535,1.8,'#000','x-tick');
  }
  [2014,2015,2016,2017,2018,2019].forEach(d=>seg(g,x(d),1529,x(d),1579,1.5,'#666','year-separator','5 3'));
  seg(g,2457,1579.5,2962,1579.5,2,'#888','year-baseline','3 2');
  ghYears.forEach(yr=>{
    label(g,x(yr)+39,1569,String(yr),25,'x-year-label',{'text-anchor':'middle'});
  });
  label(g,2395,1523,'fraction of non-fork repositories',21,'y-axis-title',{transform:'rotate(-90 2395 1523)',textLength:342,lengthAdjust:'spacingAndGlyphs'});
  plot(g,cppDates,cppShare,x,y,BLUE,4,'line-cpp');
  plot(g,pyDates,pyShare,x,y,'#ff6600',4,'line-python');
  frame(g,2457,1175,2962,1529,'chart-frame');
  label(g,2942,1213,'GitHub repos for users',25,'chart-title-line-1',{'text-anchor':'end'});
  label(g,2942,1245,'who forked CMSSW',25,'chart-title-line-2',{'text-anchor':'end'});
  label(g,2942,1269,'(Mostly CMS physicists.)',15.6,'chart-subtitle',{'text-anchor':'end',fill:'#888'});
  label(g,2942,1352,'Python/Jupyter',25,'python-series-label',{'text-anchor':'end',fill:'#ff6600'});
  label(g,2942,1497,'C/C++',24,'cpp-series-label',{'text-anchor':'end',fill:BLUE});
})();

/* ---------- draw chart 3 ---------- */
(function(){
  const x=d=>310.6+(d-2017)*212.3, y=v=>3705-(v+2)*67.2;
  const g=mk('g',{},charts);
  
  
  macYExponents.forEach(e=>{
    seg(g,159,y(e),167,y(e),2.5,'#000','y-tick');
    const t=label(g,148,y(e)+8,'10',22,'y-tick-label',{'text-anchor':'end'});
    const s=mk('tspan',{'font-size':15,dy:-9},t,String(e).replace('-','−'));
    
    
  });
  for(let e=-2;e<6;e++){
    for(let k=2;k<10;k++){
      const v=e+Math.log10(k);
      if(y(v)<3173)continue;
      seg(g,162,y(v),167,y(v),1.2,'#000','y-minor-tick');
    }
  }
  for(let m=0;m<44;m++){
    const d=2016+4/12+m/12;
    if(x(d)>916)break;
    const major=m%4===0;
    seg(g,x(d),3705,x(d),3705+(major?9:5),major?2.5:1.5,'#000','x-tick');
  }
  [2017,2018,2019].forEach(d=>seg(g,x(d),3705,x(d),3750,1.5,'#666','year-separator','5 3'));
  seg(g,167,3750.5,917,3750.5,2,'#888','year-baseline','3 2');
  macYears.forEach((yr,i)=>{
    const c=[238,409,627,844][i];
    label(g,c,3740,String(yr),25,'x-year-label',{'text-anchor':'middle'});
  });
  label(g,62,3685,'pip-installs/day, 60-day moving average',24,'y-axis-title',{transform:'rotate(-90 62 3685)',textLength:493,lengthAdjust:'spacingAndGlyphs'});
  plot(g,rootNumpyD,rootNumpyLog,x,y,BLUE,4,'line-root-numpy','11 6');
  plot(g,iminuitD,iminuitLog,x,y,BROWN,4,'line-iminuit','11 6');
  plot(g,rootpyD,rootpyLog,x,y,'#d400ff',4,'line-rootpy','11 6');
  plot(g,uprootD,uprootLog,x,y,ORANGE,4,'line-uproot');
  plot(g,numpyD,numpyLog,x,y,BLUE,4.5,'line-numpy');
  plot(g,scipyD,scipyLog,x,y,ORANGE,4.5,'line-scipy');
  plot(g,pandasD,pandasLog,x,y,GREEN,4.5,'line-pandas');
  plot(g,mplD,mplLog,x,y,RED,4.5,'line-matplotlib');
  plot(g,awkwardD,awkwardLog,x,y,RED,4,'line-awkward');
  plot(g,coffeaD,coffeaLog,x,y,GREEN,4,'line-coffea');
  const nb=mk('rect',{x:253,y:3288,width:90,height:38,fill:'#fff'},g);
  
  
  label(g,255,3316,'numpy',25.5,'label-numpy');
  [['uproot',411,82],['awkward',592,112],['coffea',779,78]].forEach(a=>{
    const bg=mk('rect',{x:a[1]-3,y:3636,width:a[2],height:32,fill:'#fff'},g);
    
    
    label(g,a[1],3660,a[0],25,'label-'+a[0]);
  });
  frame(g,167,3173,916,3705,'chart-frame');
  label(g,267,3209,'MacOS and Windows (not batch jobs)',29.8,'chart-title');
  [['scipy',ORANGE,3381,3389,''],['pandas',GREEN,3417,3425,''],['matplotlib',RED,3453,3461,''],['root-numpy',BLUE,3585,3593,'11 6'],['iminuit',BROWN,3621,3630,'11 6'],['rootpy','#d400ff',3657,3664,'11 6']].forEach(a=>{
    seg(g,185,a[2],237,a[2],4.5,a[1],'legend-line-'+a[0],a[4]||'none');
    label(g,255,a[3],a[0],25,'legend-label-'+a[0]);
  });
})();

/* ---------- draw pie ---------- */
(function(){
  const g=document.getElementById('pieChart');
  const cols=['#80ffb3','#55ddff','#ff00ff','#ffdd55'];
  const total=pieCounts.reduce((a,b)=>a+b,0);
  const cx=2044.4,cy=3597,r=142;
  let a=29.7;
  pieCounts.forEach((v,i)=>{
    const b=a+v/total*360;
    const pt=t=>(cx+r*Math.sin(t*Math.PI/180)).toFixed(1)+' '+(cy-r*Math.cos(t*Math.PI/180)).toFixed(1);
    const el=mk('path',{d:'M'+cx+' '+cy+'L'+pt(a)+'A'+r+' '+r+' 0 '+(b-a>180?1:0)+' 1 '+pt(b)+'Z',fill:cols[i],stroke:'#fff','stroke-width':1.5},g);
    
    
    a=b;
  });
  label(g,1873.5,3509,'embarrassingly',25,'pie-label-embarrassingly');
  label(g,1894,3540,'parallel ('+pieCounts[3]+')',25,'pie-label-parallel');
  label(g,2097,3563,'counting',25,'pie-label-counting');
  label(g,2088,3594,'index ('+pieCounts[0]+')',25,'pie-label-index');
  label(g,2167,3703,'loop-carried dependency ('+pieCounts[1]+')',25,'pie-label-loop-carried');
  label(g,2140,3735,'dynamic memory ('+pieCounts[2]+')',25,'pie-label-dynamic-memory');
})();

/* ---------- bracket rows ---------- */
const FILL={y:'#ffff00',p:'#ff80e5'};
function box(parent,x,base,kind){
  const top=base-34;
  if(kind==='h'){
    const a=mk('polygon',{points:(x+2)+','+(top+2)+' '+(x+32)+','+(top+2)+' '+(x+2)+','+(top+30),fill:'#ffff00'},parent);
    
    
    const b=mk('polygon',{points:(x+32)+','+(top+2)+' '+(x+32)+','+(top+30)+' '+(x+2)+','+(top+30),fill:'#ff80e5'},parent);
    
    
    const c=mk('rect',{x:x+2,y:top+2,width:30,height:28,fill:'none',stroke:'#000','stroke-width':4.5},parent);
    
    
  }else{
    const c=mk('rect',{x:x+2,y:top+2,width:30,height:28,fill:FILL[kind],stroke:'#000','stroke-width':4.5},parent);
    
    
  }
}
function row(x,base,str,name){
  const g=mk('g',{},svg);
  
  
  const toks=str.match(/NA|\d+|[\[\],yph]/g);
  toks.forEach(t=>{
    if(t==='['||t===']'){
      const el=mk('text',{x:x,y:base,'font-size':60},g,t);
      
      
      x+=24;
    }else if(t===','){
      const el=mk('text',{x:x,y:base,'font-size':60},g,t);
      
      
      x+=19.5;
    }else if(t==='NA'){
      const el=mk('text',{x:x,y:base,'font-size':45},g,t);
      
      
      x+=64.5;
    }else if(/\d/.test(t)){
      const el=mk('text',{x:x,y:base,'font-size':44},g,t);
      
      
      x+=t.length*28;
    }else{
      box(g,x,base,t);
      x+=37;
    }
  });
}
row(66,2033,'[[y,y,y],[],[y,y]]','broadcast-input-muons');
row(66,2270,'[[h,h,h],[],[h,h]]','broadcast-result');
(function(){
  const g=mk('g',{},svg);
  
  
  [[66,'['],[212,','],[359,','],[519,']']].forEach(a=>{
    const el=mk('text',{x:a[0],y:2169,'font-size':60},g,a[1]);
    
    
  });
  [172,316,428].forEach(bx=>box(g,bx,2169,'p'));
})();
row(78,2465,'[[y,y,y],[],[y]]','combinatorics-muons');
row(78,2610,'[[p,p],[p],[p,p]]','combinatorics-electrons');
row(78,2721,'[[h,h,h,h,h,h],[],[h,h]]','combinatorics-result');
row(667,2465,'[[y,y,y],[],[y,y]]','flatten-input');
row(1456,2465,'[y,y,y,y,y]','flatten-output');
row(667,2559,'[[p,p],[],[p]]','pad-input');
row(1180,2559,'[[p,p],[NA,NA],[p,NA]]','pad-output');
row(809,2758,'[[1,2,4],[],[8,16]]','reducer-input');
row(1568,2716,'[7,0,24]','reducer-axis1-output');
row(1568,2799,'[9,18,4]','reducer-axis0-output');

/* ---------- event tree ---------- */
(function(){
  const g=document.getElementById('events');
  const sq=(x,y,fill,name)=>{
    const el=mk('rect',{x:x+2.5,y:y+2.5,width:31,height:31,fill:fill,stroke:'#000','stroke-width':5},g);
    
    
  };
  const evs=[[972,3,4,[2]],[1201,0,5,[0,1,4]],[1430,4,2,[]],[1993,1,4,[1,2]]];
  evs.forEach(e=>{
    const x0=e[0],bx=x0-17.5;
    seg(g,x0,1537,x0,e[1]?1600:1640,5,'#000','event-stem');
    const c=mk('rect',{x:bx+2.5,y:1558.5,width:196,height:14,fill:'#00ffff',stroke:'#000','stroke-width':5},g);
    
    
    for(let i=0;i<e[1];i++)sq(bx+i*41.6,1593,'#ffff00','yellow-field');
    for(let i=0;i<e[2];i++)sq(bx+i*41.6,1635,'#ff80e5','pink-field');
    e[3].forEach(i=>{
      seg(g,bx+i*41.6+18,1670,bx+i*41.6+18,1690,5,'#000','nested-stem');
      sq(bx+i*41.6,1689,'#00ff66','green-field');
    });
  });
})();

/* ---------- history timeline ---------- */
(function(){
  const g=document.getElementById('timeline');
  const yr=y=>108.4+(y-1970)*11.72;
  seg(g,85,1608,715,1608,2.5,'#000','timeline-axis');
  const head=mk('polygon',{points:'732,1608 712,1601 717,1608 712,1615',fill:'#000'},g);
  
  
  for(let y=1970;y<=2020;y+=2){
    seg(g,yr(y),1608,yr(y),1608-(y%10===0?13:6),2,'#000','timeline-tick');
  }
  [1970,1980,1990,2000,2010,2020].forEach(y=>{
    label(g,yr(y),1639,String(y),22,'timeline-year',{'text-anchor':'middle'});
  });
  const arrow=(x1,y1,x2,y2,sw,hw,hl)=>{
    const dx=x2-x1,dy=y2-y1,L=Math.hypot(dx,dy),ux=dx/L,uy=dy/L,nx=-uy,ny=ux,bx=x2-ux*hl,by=y2-uy*hl;
    const p=[[x1+nx*sw,y1+ny*sw],[bx+nx*sw,by+ny*sw],[bx+nx*hw,by+ny*hw],[x2,y2],[bx-nx*hw,by-ny*hw],[bx-nx*sw,by-ny*sw],[x1-nx*sw,y1-ny*sw]];
    const el=mk('polygon',{points:p.map(q=>q[0].toFixed(1)+','+q[1].toFixed(1)).join(' '),fill:'#d8d7eb',stroke:'#000','stroke-width':2.5},g);
    
    
  };
  arrow(177,1346,234,1370,7,16,24);
  arrow(189,1407,236,1385,7,16,22);
  arrow(338,1377,376,1377,6,16,22);
  arrow(436,1377,731,1377,6,16,28);
  arrow(202,1554,300,1554,6,16,26);
  arrow(364,1427,387,1397,6,16,20);
  for(let i=0;i<5;i++){
    const r=mk('rect',{x:300+i*8,y:1371,width:5.5,height:12,fill:'#d8d7eb',stroke:'#000','stroke-width':2},g);
    
    
  }
  [[353,1442],[360,1432]].forEach(p=>{
    const r=mk('rect',{x:p[0]-3,y:p[1]-5,width:7,height:9,fill:'#d8d7eb',stroke:'#000','stroke-width':2,transform:'rotate(35 '+p[0]+' '+p[1]+')'},g);
    
    
  });
  const nodes=[[143.5,1334,['HYDRA','(1973)'],[48,40]],[155,1416.5,['ZBOOK','(1974)'],[50,40]],[259.6,1377,['ZEBRA','(1983)'],[47,40]],[402,1377,['ROOT','(1995)'],[40,40]],[330,1478,['CWN','in PAW','(1989)'],[33,47,40]],[167,1554,['BOS','(1975)'],[30,40]],[326.5,1554,['YBOS','(CDF r1)'],[39,55]]];
  nodes.forEach(n=>{
    const c=mk('ellipse',{cx:n[0],cy:n[1],rx:35,ry:35,fill:'#ffe6d5',stroke:'#000','stroke-width':2.5},g);
    
    
    const start=n[2].length===3?-12:-3;
    n[2].forEach((s,i)=>{
      const t=mk('text',{x:n[0],y:n[1]+start+i*16,class:'tl',textLength:n[3][i],lengthAdjust:'spacingAndGlyphs'},g,s);
      
      
    });
  });
})();
</script>
</body>
</html>
